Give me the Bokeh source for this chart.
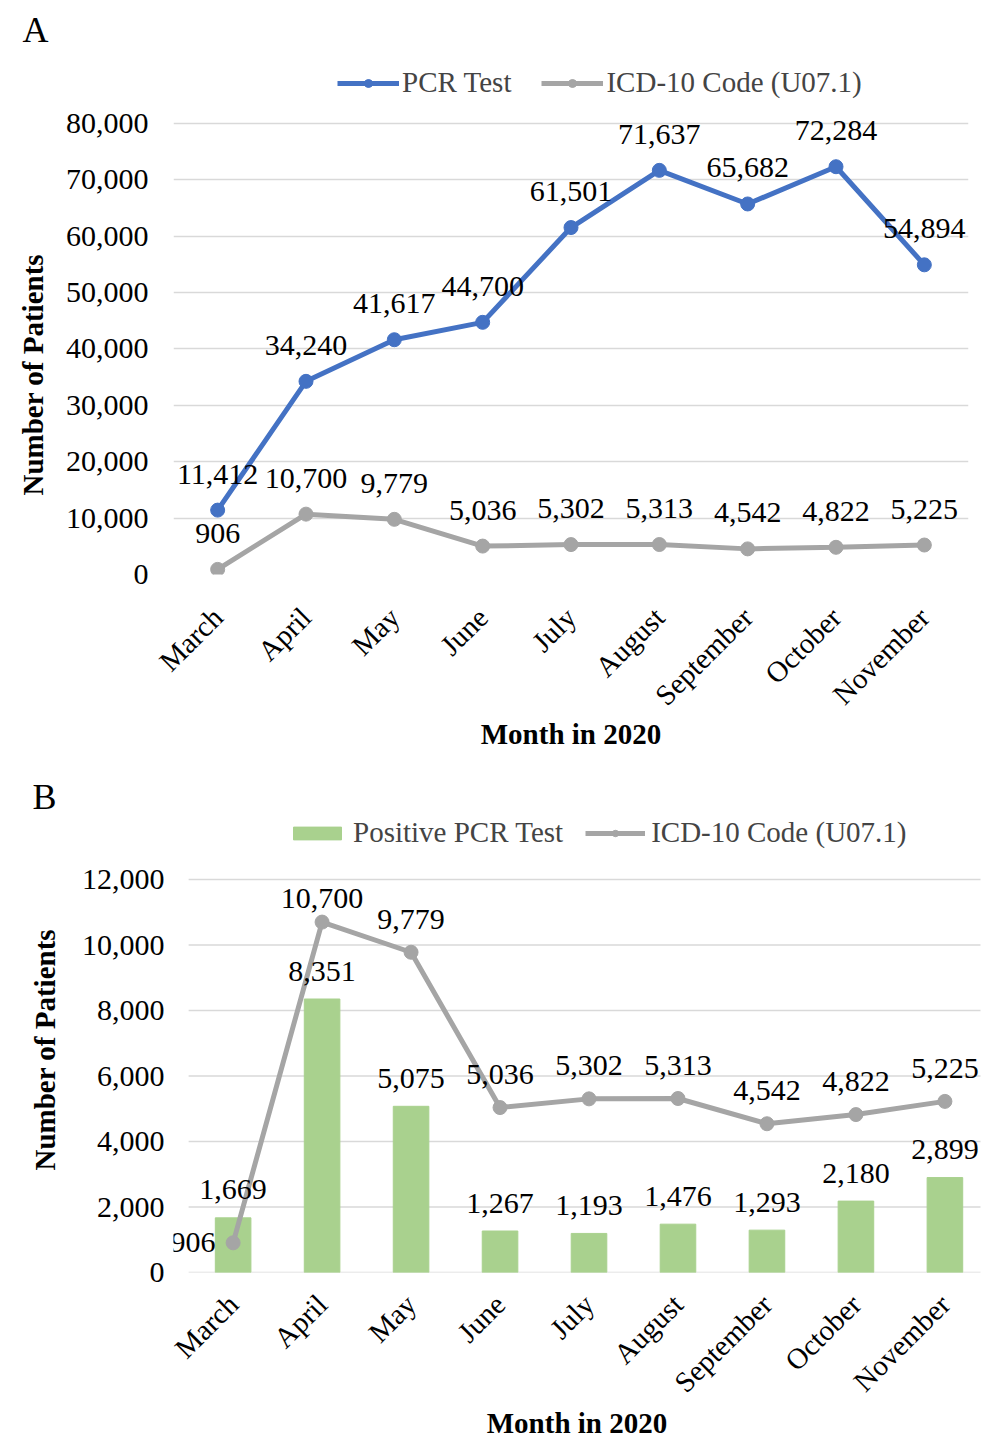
import math
from bokeh.plotting import figure
from bokeh.models import (ColumnDataSource, LabelSet, Legend, LegendItem, Title,
                          NumeralTickFormatter, FactorRange, Range1d, FixedTicker)
from bokeh.layouts import column
from bokeh.core.properties import value
from bokeh.embed import file_html
from bokeh.resources import INLINE

# ---------------- data ----------------
months = ["March", "April", "May", "June", "July", "August",
          "September", "October", "November"]
pcr_tests = [11412, 34240, 41617, 44700, 61501, 71637, 65682, 72284, 54894]
icd10_codes = [906, 10700, 9779, 5036, 5302, 5313, 4542, 4822, 5225]
positive_pcr = [1669, 8351, 5075, 1267, 1193, 1476, 1293, 2180, 2899]
ticks_a = [0, 10000, 20000, 30000, 40000, 50000, 60000, 70000, 80000]
ticks_b = [0, 2000, 4000, 6000, 8000, 10000, 12000]

FONT = "Liberation Serif"
BLUE = "#4472C4"
GRAY = "#A5A5A5"
GREEN = "#A9D18E"
GRID = "#D9D9D9"
NUM_SIZE = "30px"


def fmt(v):
    return f"{v:,}"


def style(p, tick_standoff, xlabel_standoff, ylab_standoff):
    p.outline_line_color = None
    p.xgrid.grid_line_color = None
    p.ygrid.grid_line_color = GRID
    p.ygrid.grid_line_width = 1.5
    for ax in (p.xaxis[0], p.yaxis[0]):
        ax.axis_line_color = None
        ax.major_tick_line_color = None
        ax.minor_tick_line_color = None
        ax.major_label_text_font = FONT
        ax.major_label_text_color = "#000000"
        ax.axis_label_text_font = FONT
        ax.axis_label_text_font_size = "29px"
        ax.axis_label_text_font_style = "bold"
        ax.axis_label_text_color = "#000000"
    p.xaxis.major_label_text_font_size = "29px"
    p.yaxis.major_label_text_font_size = NUM_SIZE
    p.yaxis.formatter = NumeralTickFormatter(format="0,0")
    p.xaxis.major_label_orientation = math.pi / 4
    p.xaxis.major_label_standoff = tick_standoff
    p.yaxis.major_label_standoff = ylab_standoff
    p.xaxis.axis_label = "Month in 2020"
    p.xaxis.axis_label_standoff = xlabel_standoff


def y_title(p, offset, standoff):
    p.add_layout(Title(text="Number of Patients", text_font=FONT, text_font_size="29px",
                       text_font_style="bold", align="left", offset=offset,
                       standoff=standoff, text_color="#000000"), "left")


def labels(p, src, xcol, ycol, tcol, xoff=0, yoff=30):
    ls = LabelSet(x=xcol, y=ycol, text=tcol, source=src, x_offset=xoff, y_offset=yoff,
                  text_font=value(FONT), text_font_size=NUM_SIZE, text_align="center",
                  text_baseline="middle", text_color="#000000")
    p.add_layout(ls)
    return ls


def panel_title(p, letter, offset, standoff):
    p.add_layout(Title(text=letter, text_font=FONT, text_font_size="36px",
                       text_font_style="normal", align="left", offset=offset,
                       standoff=standoff, text_color="#000000"), "above")


def make_legend(items, loc, gw, gh, spacing, standoff):
    return Legend(items=items, orientation="horizontal", location=loc,
                  label_text_font=FONT, label_text_font_size="29px",
                  glyph_width=gw, glyph_height=gh, spacing=spacing,
                  label_standoff=standoff,
                  border_line_color=None, background_fill_alpha=0)


# ---------------- panel A ----------------
pA = figure(width=973, height=755, x_range=FactorRange(factors=months),
            y_range=Range1d(0, 92000), output_backend="svg", toolbar_location=None,
            min_border_left=173, min_border_right=5, min_border_top=55,
            min_border_bottom=181, title=None)
style(pA, tick_standoff=32, xlabel_standoff=-8, ylab_standoff=19)
pA.yaxis.ticker = FixedTicker(ticks=ticks_a)
y_title(pA, 79, 27)

srcA = ColumnDataSource(dict(m=months, pcr=pcr_tests, icd=icd10_codes,
                             pcr_t=[fmt(v) for v in pcr_tests],
                             icd_t=[fmt(v) for v in icd10_codes]))
l1 = pA.line("m", "pcr", source=srcA, line_color=BLUE, line_width=5)
s1 = pA.scatter("m", "pcr", source=srcA, size=14, color=BLUE)
l2 = pA.line("m", "icd", source=srcA, line_color=GRAY, line_width=5)
s2 = pA.scatter("m", "icd", source=srcA, size=14, color=GRAY)
labels(pA, srcA, "m", "pcr", "pcr_t", yoff=36)
labels(pA, srcA, "m", "icd", "icd_t", yoff=36)

legA = make_legend([LegendItem(label="PCR Test", renderers=[l1, s1]),
                    LegendItem(label="ICD-10 Code (U07.1)", renderers=[l2, s2])],
                   (164, 475), 62, 20, 30, 3)
pA.add_layout(legA, "center")
panel_title(pA, "A", -151, 12)

# ---------------- panel B ----------------
xi = list(range(len(months)))
pB = figure(width=985, height=686, x_range=Range1d(-0.67, 8.40),
            y_range=Range1d(0, 13924), output_backend="svg", toolbar_location=None,
            min_border_left=172, min_border_right=0, min_border_top=61,
            min_border_bottom=169, title=None)
style(pB, tick_standoff=21, xlabel_standoff=-6, ylab_standoff=3)
pB.yaxis.ticker = FixedTicker(ticks=ticks_b)
pB.xaxis.ticker = FixedTicker(ticks=xi)
pB.xaxis.major_label_overrides = {i: m for i, m in zip(xi, months)}
pB.ygrid.grid_line_color = None
y_title(pB, 102, 35)
# horizontal rules spanning the category bands only
pB.segment(x0=[xi[0] - 0.5] * len(ticks_b), x1=[xi[-1] + 0.5] * len(ticks_b),
           y0=ticks_b, y1=ticks_b, line_color=GRID, line_width=1.5)

icd_xoff = [-40, 0, 0, 0, 0, 0, 0, 0, 0]
icd_yoff = [0, 24, 33, 33, 33, 33, 33, 33, 33]
srcB = ColumnDataSource(dict(x=xi, pos=positive_pcr, icd=icd10_codes,
                             pos_t=[fmt(v) for v in positive_pcr],
                             icd_t=[fmt(v) for v in icd10_codes],
                             xo=icd_xoff, yo=icd_yoff))
b1 = pB.vbar(x="x", top="pos", source=srcB, width=0.4, color=GREEN)
l3 = pB.line("x", "icd", source=srcB, line_color=GRAY, line_width=5)
s3 = pB.scatter("x", "icd", source=srcB, size=14, color=GRAY)
labels(pB, srcB, "x", "pos", "pos_t", yoff=28)
ls2 = LabelSet(x="x", y="icd", text="icd_t", source=srcB, x_offset="xo", y_offset="yo",
               text_font=value(FONT), text_font_size=NUM_SIZE, text_align="center",
               text_baseline="middle", text_color="#000000")
pB.add_layout(ls2)

legB = make_legend([LegendItem(label="Positive PCR Test", renderers=[b1]),
                    LegendItem(label="ICD-10 Code (U07.1)", renderers=[l3, s3])],
                   (114, 423), 60, 16, 22, 6)
pB.add_layout(legB, "center")
panel_title(pB, "B", -141, 0)

layout = column(pA, pB, spacing=0)
open("out.html", "w").write(file_html(layout, INLINE))
